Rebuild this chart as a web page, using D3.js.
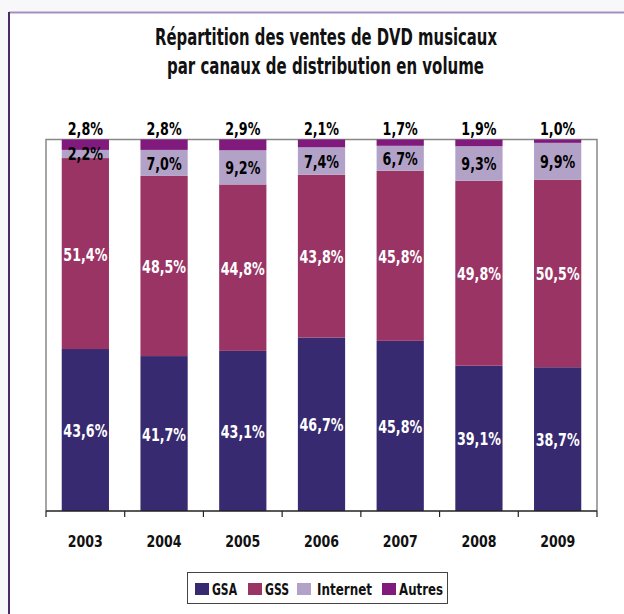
<!DOCTYPE html>
<html><head><meta charset="utf-8">
<script src="https://cdn.jsdelivr.net/npm/d3@7"></script>
<style>
html,body{margin:0;padding:0;background:#fff;}
svg{display:block;}
text{font-family:"DejaVu Sans Condensed","DejaVu Sans",sans-serif;font-weight:bold;}
</style></head>
<body>
<script>
const years = ["2003","2004","2005","2006","2007","2008","2009"];
const seriesNames = ["GSA","GSS","Internet","Autres"];
const gsa = [43.6,41.7,43.1,46.7,45.8,39.1,38.7];
const gss = [51.4,48.5,44.8,43.8,45.8,49.8,50.5];
const internet = [2.2,7.0,9.2,7.4,6.7,9.3,9.9];
const autres = [2.8,2.8,2.9,2.1,1.7,1.9,1.0];
const colors = ["#372a70","#993465","#b3a2c8","#801a7c"];
const labelColors = ["#ffffff","#ffffff","#000000","#000000"];

const W=624,H=614;
const svg=d3.select("body").append("svg").attr("width",W).attr("height",H);
// page background and frame
svg.append("rect").attr("x",0).attr("y",0).attr("width",W).attr("height",H).attr("fill","#f8f8fa");
svg.append("rect").attr("x",9).attr("y",12).attr("width",W-9).attr("height",H-12).attr("fill","#ffffff");
svg.append("line").attr("x1",9).attr("x2",W).attr("y1",12.5).attr("y2",12.5).attr("stroke","#a58fbf").attr("stroke-width",2);
svg.append("line").attr("x1",9).attr("x2",9).attr("y1",12).attr("y2",H).attr("stroke","#4b2a6b").attr("stroke-width",2);

// title
const t1=svg.append("text").attr("text-anchor","middle").attr("fill","#111").attr("font-size",23)
  .attr("x",326).attr("y",45).attr("textLength",342).attr("lengthAdjust","spacingAndGlyphs")
  .text("Répartition des ventes de DVD musicaux");
const t2=svg.append("text").attr("text-anchor","middle").attr("fill","#111").attr("font-size",23)
  .attr("x",325.5).attr("y",74).attr("textLength",317).attr("lengthAdjust","spacingAndGlyphs")
  .text("par canaux de distribution en volume");

const pL=46,pR=597,pT=139.5,pB=511;
const x=d3.scaleBand().domain(years).range([pL,pR]).paddingInner(0.4).paddingOuter(0.2);
const y=d3.scaleLinear().domain([0,100]).range([pB,pT]);

// frame of plot
svg.append("path").attr("d",`M${pL},${pB}V${pT}H${pR}V${pB}`).attr("fill","none").attr("stroke","#888").attr("stroke-width",1.5);

const rows=years.map((yr,i)=>({year:yr,GSA:gsa[i],GSS:gss[i],Internet:internet[i],Autres:autres[i]}));
const stack=d3.stack().keys(seriesNames);
const stacked=stack(rows);

stacked.forEach((s,si)=>{
  svg.append("g").selectAll("rect").data(s).join("rect")
    .attr("x",d=>x(d.data.year)).attr("width",x.bandwidth())
    .attr("y",d=>y(Math.min(d[1],100))).attr("height",d=>y(d[0])-y(Math.min(d[1],100)))
    .attr("fill",colors[si]);
});

const fmt=v=>v.toFixed(1).replace(".",",")+"%";
// labels
stacked.forEach((s,si)=>{
  svg.append("g").selectAll("text").data(s).join("text")
    .attr("x",d=>x(d.data.year)+x.bandwidth()/2)
    .attr("y",d=>{
      if(si===3) return pT-4.5;
      if(si===2 && d.data.year==="2003") return y(d[1])+10;
      return (y(d[0])+y(d[1]))/2+7;
    })
    .attr("text-anchor","middle").attr("font-size",18.5)
    .attr("fill",labelColors[si])
    .text(d=>fmt(d.data[seriesNames[si]]))
    .attr("textLength",function(){return this.textContent.length*8.8;})
    .attr("lengthAdjust","spacingAndGlyphs");
});

// x axis
const ax=svg.append("g").attr("transform",`translate(0,${pB})`);
ax.append("line").attr("x1",pL).attr("x2",pR).attr("stroke","#222").attr("stroke-width",1.5);
const tickXs=d3.range(years.length+1).map(i=>pL+i*(pR-pL)/years.length);
ax.selectAll(".tk").data(tickXs).join("line").attr("x1",d=>d).attr("x2",d=>d).attr("y1",0).attr("y2",6).attr("stroke","#222").attr("stroke-width",1.2);
ax.selectAll(".yl").data(years).join("text").attr("x",d=>x(d)+x.bandwidth()/2).attr("y",36)
  .attr("text-anchor","middle").attr("font-size",16.5).attr("fill","#111")
  .attr("textLength",35).attr("lengthAdjust","spacingAndGlyphs").text(d=>d);

// legend
const lg=svg.append("g");
lg.append("rect").attr("x",187.5).attr("y",572.5).attr("width",260).attr("height",31).attr("fill","#fff").attr("stroke","#444").attr("stroke-width",1);
const lx=[195,248,297,382];
const tx=[212,265,317,399];
const tw=[25,24,55,44];
seriesNames.forEach((n,i)=>{
  lg.append("rect").attr("x",lx[i]).attr("y",583).attr("width",14).attr("height",12).attr("fill",colors[i]);
  lg.append("text").attr("x",tx[i]).attr("y",594.5).attr("font-size",16.5).attr("fill","#111")
    .attr("textLength",tw[i]).attr("lengthAdjust","spacingAndGlyphs").text(n);
});
</script>
</body></html>
